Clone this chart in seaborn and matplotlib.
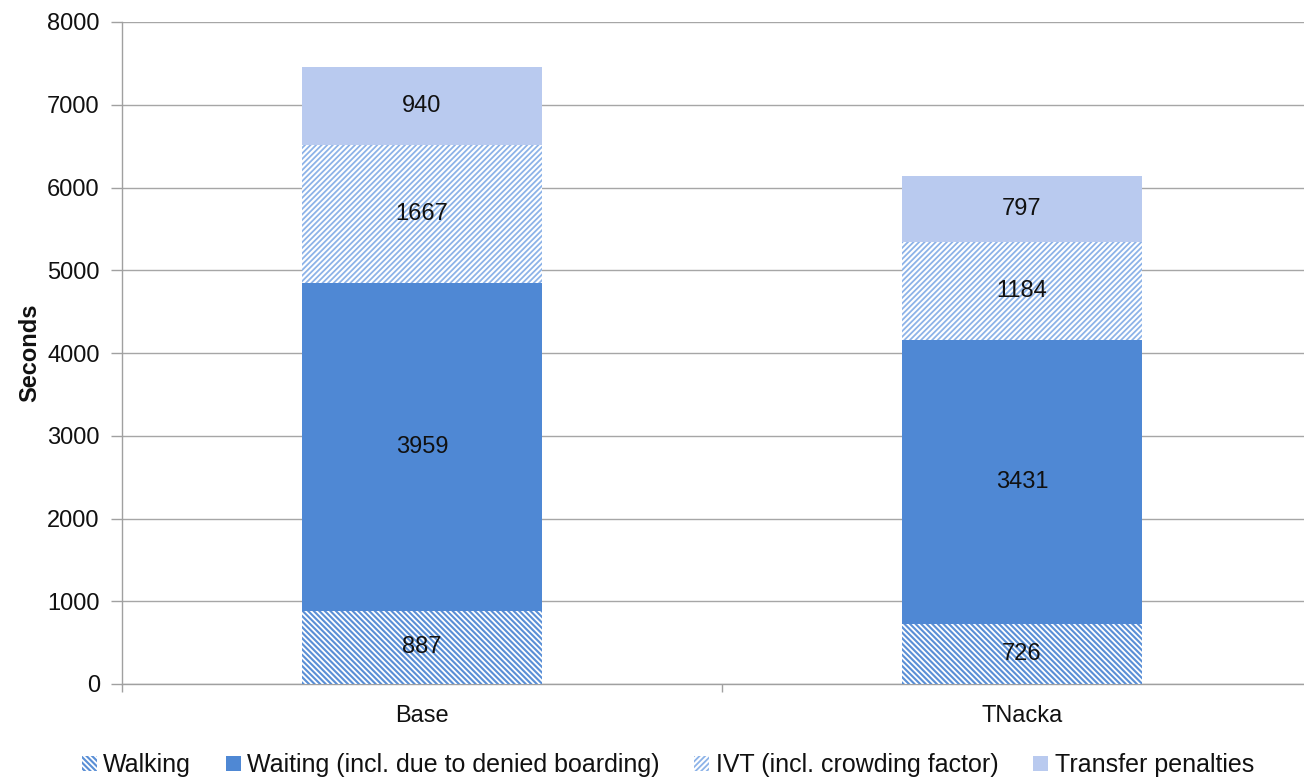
import matplotlib
matplotlib.use("Agg")
import matplotlib.pyplot as plt
import seaborn as sns
import numpy as np
import pandas as pd
from matplotlib.patches import Patch

# Travel time components per scenario (seconds)
scenarios = ["Base", "TNacka"]
walking = [887, 726]
waiting = [3959, 3431]
ivt = [1667, 1184]
transfer = [940, 797]

components = ["Walking", "Waiting (incl. due to denied boarding)",
              "IVT (incl. crowding factor)", "Transfer penalties"]
y_ticks = [0, 1000, 2000, 3000, 4000, 5000, 6000, 7000, 8000]

sns.set_theme(style="white")
plt.rcParams["font.family"] = ["Liberation Sans", "DejaVu Sans"]
plt.rcParams["hatch.linewidth"] = 1.3

FS = 17
fig = plt.figure(figsize=(13.04, 7.78), dpi=100)
# the plot area runs slightly past the right edge of the canvas
ax = fig.add_axes([122 / 1304, 1 - 684 / 778, 1200 / 1304, 662 / 778])

styles = [
    dict(color="#5a8fd6", hatch="\\\\\\\\\\\\", edgecolor="white"),
    dict(color="#4f88d4", hatch=None, edgecolor="#4f88d4"),
    dict(color="white", hatch="//////", edgecolor="#8db3e8"),
    dict(color="#b9caef", hatch=None, edgecolor="#b9caef"),
]
series = [walking, waiting, ivt, transfer]

df = pd.DataFrame({"scenario": scenarios})
bottom = np.zeros(len(scenarios))
for name, vals, st in zip(components, series, styles):
    df[name] = vals
    sns.barplot(data=df, x="scenario", y=name, ax=ax, bottom=bottom,
                width=0.4, linewidth=0, color=st["color"], saturation=1,
                edgecolor=st["edgecolor"], hatch=st["hatch"], zorder=3)
    for i, v in enumerate(vals):
        ax.text(i, bottom[i] + v / 2, f"{v}", ha="center", va="center",
                fontsize=FS, color="#111111", zorder=5)
    bottom = bottom + np.array(vals)

ax.set_xlim(-0.5, 1.5)
ax.set_ylim(0, 8000)
ax.set_yticks(y_ticks)
ax.set_yticklabels([str(t) for t in y_ticks], fontsize=FS, color="#111111")
ax.set_xticks(range(len(scenarios)))
ax.set_xticklabels(scenarios, fontsize=FS, color="#111111")
ax.set_xticks([-0.5, 0.5, 1.5], minor=True)
ax.tick_params(axis="x", which="major", length=0, pad=15)
ax.tick_params(axis="x", which="minor", length=6, color="#a0a0a0", width=1,
               direction="out", bottom=True)
ax.tick_params(axis="y", length=8, color="#a0a0a0", width=1, direction="out",
               left=True, pad=8)
ax.set_xlabel("")
ax.set_ylabel("Seconds", fontsize=FS, fontweight="bold", labelpad=4,
              color="#111111")

ax.yaxis.grid(True, color="#a6a6a6", linewidth=1, zorder=0)
ax.set_axisbelow(True)
for s in ["top", "right"]:
    ax.spines[s].set_visible(False)
for s in ["left", "bottom"]:
    ax.spines[s].set_color("#a0a0a0")
    ax.spines[s].set_linewidth(1)

handles = [Patch(facecolor=st["color"], edgecolor=st["edgecolor"],
                 hatch=st["hatch"], linewidth=0) for st in styles]
fig.legend(handles, components, loc="lower center", ncol=4, frameon=False,
           fontsize=18, bbox_to_anchor=(0.512, -0.028), handlelength=0.6,
           handleheight=0.6, handletextpad=0.25, columnspacing=1.4,
           labelcolor="#111111")

fig.savefig("out.png", dpi=100)
